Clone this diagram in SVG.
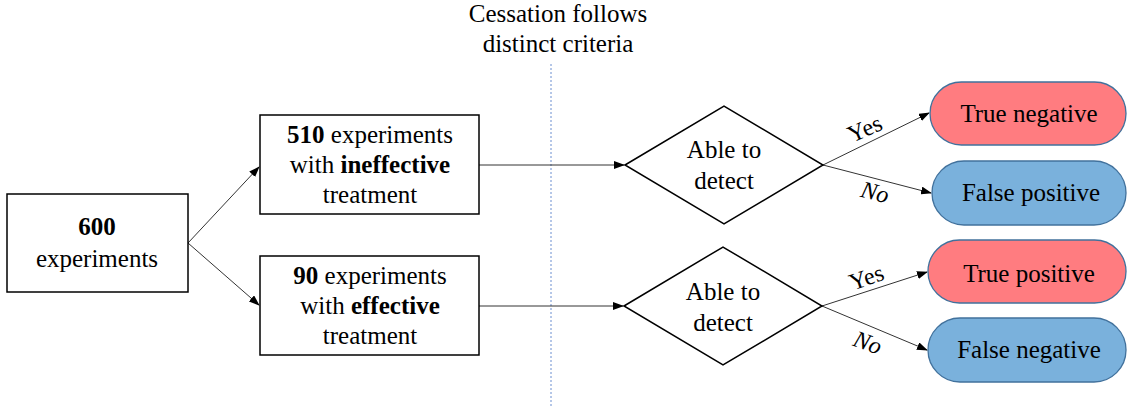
<svg xmlns="http://www.w3.org/2000/svg" width="1127" height="410" viewBox="0 0 1127 410">
<defs>
<marker id="ah" markerUnits="userSpaceOnUse" markerWidth="11" markerHeight="8" refX="10" refY="4" orient="auto"><path d="M0,0 L11,4 L0,8 Z" fill="#000"/></marker>
<style>
text{font-size:25px;fill:#000;text-anchor:middle}
.b{font-weight:bold}
.box{fill:#fff;stroke:#000;stroke-width:1.5}
.dia{fill:#fff;stroke:#000;stroke-width:1.5}
.red{fill:#FF7C80;stroke:#41719C;stroke-width:1.3}
.blue{fill:#7AB1DC;stroke:#41719C;stroke-width:1.3}
.con{stroke:#333;stroke-width:1;fill:none;marker-end:url(#ah)}
.lbl{font-size:24px}
</style>
</defs>
<rect width="1127" height="410" fill="#fff"/>
<g id="divider">
<line x1="551" y1="64" x2="551" y2="408" stroke="#4472C4" stroke-width="0.8" stroke-dasharray="2,2"/>
<text font-family="Liberation Serif" x="558" y="22">Cessation follows</text>
<text font-family="Liberation Serif" x="558" y="52">distinct criteria</text>
</g>
<g id="connectors">
<line class="con" x1="188" y1="243" x2="259" y2="167"/>
<line class="con" x1="188" y1="243" x2="259" y2="305"/>
<line class="con" x1="479" y1="165" x2="624" y2="165"/>
<line class="con" x1="479" y1="306" x2="623" y2="306"/>
<line class="con" x1="823" y1="165" x2="929" y2="113"/>
<line class="con" x1="823" y1="165" x2="931" y2="193"/>
<line class="con" x1="822" y1="306" x2="927" y2="272"/>
<line class="con" x1="822" y1="306" x2="927" y2="350"/>
<text font-family="Liberation Serif" class="lbl" transform="translate(868,136) rotate(-24)">Yes</text>
<text font-family="Liberation Serif" class="lbl" font-style="italic" transform="translate(873,200) rotate(14)">No</text>
<text font-family="Liberation Serif" class="lbl" transform="translate(869,285) rotate(-19)">Yes</text>
<text font-family="Liberation Serif" class="lbl" font-style="italic" transform="translate(865,350) rotate(20)">No</text>
</g>
<g id="n600">
<rect class="box" x="7" y="194" width="181" height="98"/>
<text font-family="Liberation Serif" x="97" y="235" class="b">600</text>
<text font-family="Liberation Serif" x="97" y="267">experiments</text>
</g>
<g id="n510">
<rect class="box" x="260" y="115" width="219" height="99"/>
<text font-family="Liberation Serif" x="370" y="143"><tspan class="b">510</tspan> experiments</text>
<text font-family="Liberation Serif" x="370" y="173">with <tspan class="b">ineffective</tspan></text>
<text font-family="Liberation Serif" x="370" y="203">treatment</text>
</g>
<g id="n90">
<rect class="box" x="260" y="256" width="219" height="99"/>
<text font-family="Liberation Serif" x="370" y="284"><tspan class="b">90</tspan> experiments</text>
<text font-family="Liberation Serif" x="370" y="314">with <tspan class="b">effective</tspan></text>
<text font-family="Liberation Serif" x="370" y="344">treatment</text>
</g>
<g id="d1">
<polygon class="dia" points="625,165 724,106 823,165 724,224"/>
<text font-family="Liberation Serif" x="724" y="158">Able to</text>
<text font-family="Liberation Serif" x="724" y="189">detect</text>
</g>
<g id="d2">
<polygon class="dia" points="624,306 723,247 822,306 723,365"/>
<text font-family="Liberation Serif" x="723" y="300">Able to</text>
<text font-family="Liberation Serif" x="723" y="331">detect</text>
</g>
<g id="tn">
<rect class="red" x="930" y="82" width="196" height="63" rx="31.5"/>
<text font-family="Liberation Serif" x="1029" y="122">True negative</text>
</g>
<g id="fp">
<rect class="blue" x="932" y="161" width="194" height="64" rx="32"/>
<text font-family="Liberation Serif" x="1031" y="201">False positive</text>
</g>
<g id="tp">
<rect class="red" x="928" y="240" width="198" height="63" rx="31.5"/>
<text font-family="Liberation Serif" x="1029" y="282">True positive</text>
</g>
<g id="fn">
<rect class="blue" x="928" y="318" width="198" height="64" rx="32"/>
<text font-family="Liberation Serif" x="1029" y="358">False negative</text>
</g>
</svg>
